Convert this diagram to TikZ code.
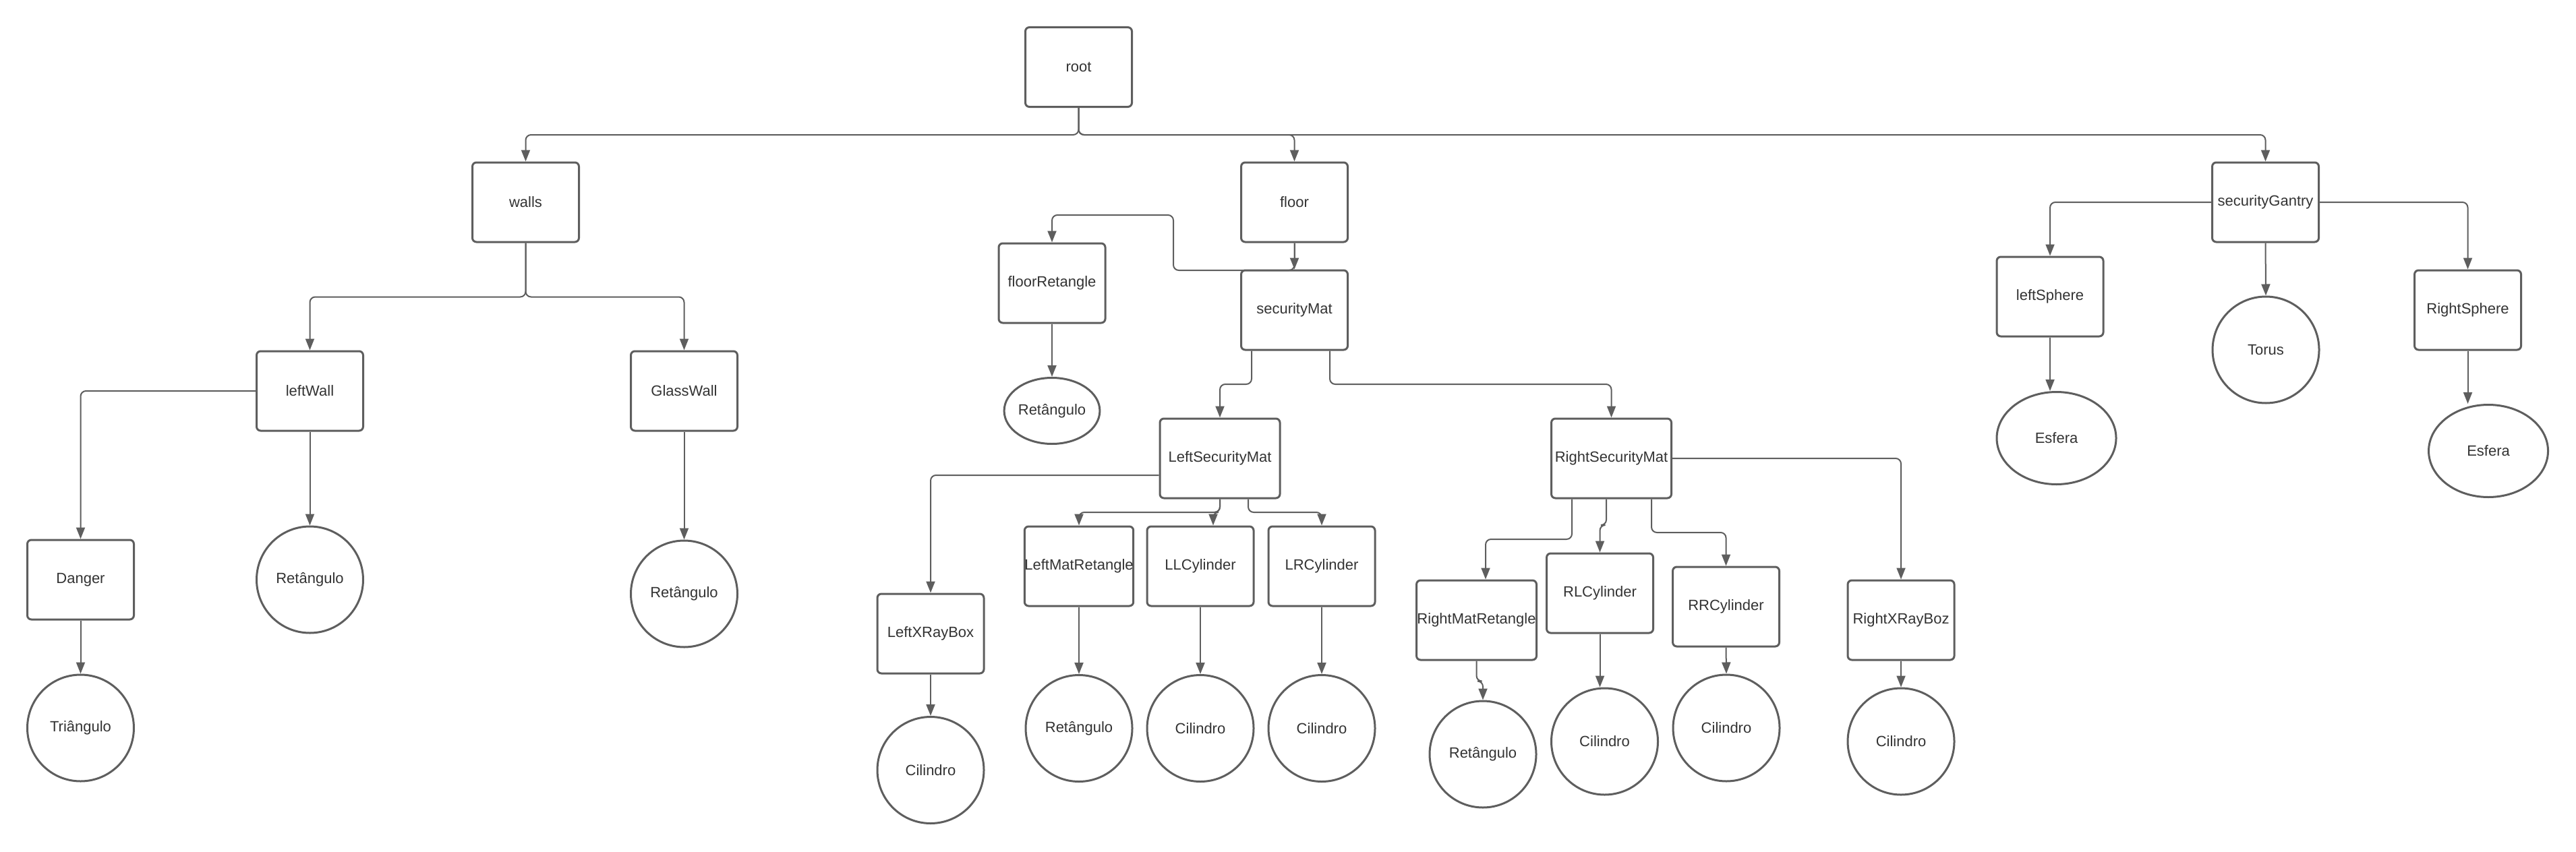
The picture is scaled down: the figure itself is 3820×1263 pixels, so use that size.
\documentclass[tikz,border=0pt]{standalone}
\usepackage{fontspec}
\setmainfont{Liberation Sans}
\usetikzlibrary{arrows.meta,shapes.geometric}
\definecolor{ln}{HTML}{5E5E5E}
\definecolor{tx}{HTML}{333333}
\begin{document}
\begin{tikzpicture}[x=0.5pt,y=-0.5pt,
  base/.style={draw=ln, line width=1.5pt, inner sep=0pt, text=tx, font=\fontsize{11}{13}\selectfont},
  box/.style={base, rectangle, rounded corners=3pt, minimum width=79pt, minimum height=59pt},
  wbox/.style={box, minimum width=89pt},
  circ/.style={base, circle, minimum size=79pt},
  conn/.style={draw=ln, line width=1pt, rounded corners=4pt, -{Triangle[length=8.5pt,width=6.5pt]}}
]
\useasboundingbox (0,0) rectangle (3820,1263);
\fill[white] (0,0) rectangle (3820,1263);

% nodes
\node[box] (root) at (1599.5,99.5) {root};
\node[box] (walls) at (779.5,300) {walls};
\node[box] (floor) at (1919.5,300) {floor};
\node[box] (securityGantry) at (3359.5,300) {securityGantry};
\node[box] (floorRetangle) at (1560,420) {floorRetangle};
\node[box] (securityMat) at (1919.5,460) {securityMat};
\node[base, ellipse, minimum width=68.5pt, minimum height=49pt] (fret) at (1560,609.5) {Retângulo};
\node[box] (leftWall) at (459.5,580) {leftWall};
\node[box] (GlassWall) at (1014.5,580) {GlassWall};
\node[box] (Danger) at (119.5,860) {Danger};
\node[circ] (lwRet) at (459.5,860) {Retângulo};
\node[circ] (gwRet) at (1014.5,881) {Retângulo};
\node[circ] (tri) at (119.5,1080) {Triângulo};

\node[wbox] (LeftSecurityMat) at (1809,680) {LeftSecurityMat};
\node[wbox] (RightSecurityMat) at (2389.5,680) {RightSecurityMat};
\node[box] (LeftXRayBox) at (1380,940) {LeftXRayBox};
\node[circ] (lxCil) at (1380,1142.5) {Cilindro};
\node[box] (LeftMatRetangle) at (1600,840) {LeftMatRetangle};
\node[box] (LLCylinder) at (1780,840) {LLCylinder};
\node[box] (LRCylinder) at (1960,840) {LRCylinder};
\node[circ] (lmRet) at (1600,1080.5) {Retângulo};
\node[circ] (llCil) at (1780,1080.5) {Cilindro};
\node[circ] (lrCil) at (1960,1080.5) {Cilindro};

\node[wbox] (RightMatRetangle) at (2189.5,920) {RightMatRetangle};
\node[box] (RLCylinder) at (2372.5,880) {RLCylinder};
\node[box] (RRCylinder) at (2559.5,900) {RRCylinder};
\node[box] (RightXRayBoz) at (2819,920) {RightXRayBoz};
\node[circ] (rmRet) at (2199,1119) {Retângulo};
\node[circ] (rlCil) at (2379.5,1100) {Cilindro};
\node[circ] (rrCil) at (2560,1080) {Cilindro};
\node[circ] (rxCil) at (2819,1100) {Cilindro};

\node[box] (leftSphere) at (3040,440) {leftSphere};
\node[circ] (Torus) at (3360,519) {Torus};
\node[box] (RightSphere) at (3659.5,460) {RightSphere};
\node[base, ellipse, minimum width=88.5pt, minimum height=68.5pt] (esL) at (3049.5,650) {Esfera};
\node[base, ellipse, minimum width=88.5pt, minimum height=68.5pt] (esR) at (3690,669) {Esfera};

% connectors
\draw[conn] (root.south) -- ++(0,40) -| (walls.north);
\draw[conn] (root.south) -- ++(0,40) -| (floor.north);
\draw[conn] (root.south) -- ++(0,40) -| (securityGantry.north);

\draw[conn] (walls.south) -- ++(0,80) -| (leftWall.north);
\draw[conn] (walls.south) -- ++(0,80) -| (GlassWall.north);
\draw[conn] (leftWall.west) -| (Danger.north);
\draw[conn] (leftWall.south) -- (lwRet.north);
\draw[conn] (GlassWall.south) -- (gwRet.north);
\draw[conn] (Danger.south) -- (tri.north);

\coordinate (fj1) at (1740,401);
\coordinate (fj2) at (1740,319);
\draw[conn] (floor.south) |- (fj1) -- (fj2) -| (floorRetangle.north);
\draw[conn] (floor.south) -- (securityMat.north);
\draw[conn] (floorRetangle.south) -- (fret.north);

\draw[conn] (securityMat.south -| 1856,0) -- (1856,570) -| (LeftSecurityMat.north);
\draw[conn] (securityMat.south -| 1972,0) -- (1972,570) -| (RightSecurityMat.north);

\draw[conn] (LeftSecurityMat.west |- 0,705) -| (LeftXRayBox.north);
\draw[conn] (LeftSecurityMat.south) -- (1809,760) -| (LeftMatRetangle.north);
\draw[conn] (LeftSecurityMat.south) -- (1809,760) -| (LLCylinder.north -| 1799,0);
\draw[conn] (LeftSecurityMat.south -| 1851,0) -- (1851,760) -| (LRCylinder.north);
\draw[conn] (LeftXRayBox.south) -- (lxCil.north);
\draw[conn] (LeftMatRetangle.south) -- (lmRet.north);
\draw[conn] (LLCylinder.south) -- (llCil.north);
\draw[conn] (LRCylinder.south) -- (lrCil.north);

\draw[conn] (RightSecurityMat.south -| 2331,0) -- (2331,800) -| (RightMatRetangle.north -| 2203,0);
\draw[conn] (RightSecurityMat.south -| 2382,0) -- (2382,779) -| (RLCylinder.north);
\draw[conn] (RightSecurityMat.south -| 2449,0) -- (2449,790) -| (RRCylinder.north);
\draw[conn] (RightSecurityMat.east) -| (RightXRayBoz.north);
\draw[conn] (RightMatRetangle.south) -- ++(0,30) -| (rmRet.north);
\draw[conn] (RLCylinder.south) -- (RLCylinder.south |- rlCil.north);
\draw[conn] (RRCylinder.south) -- (rrCil.north);
\draw[conn] (RightXRayBoz.south) -- (rxCil.north);

\draw[conn] (securityGantry.west) -| (leftSphere.north);
\draw[conn] (securityGantry.south) -- (Torus.north);
\draw[conn] (securityGantry.east) -| (RightSphere.north);
\draw[conn] (leftSphere.south) -- (leftSphere.south |- esL.north);
\draw[conn] (RightSphere.south) -- (RightSphere.south |- esR.north);
\end{tikzpicture}
\end{document}
